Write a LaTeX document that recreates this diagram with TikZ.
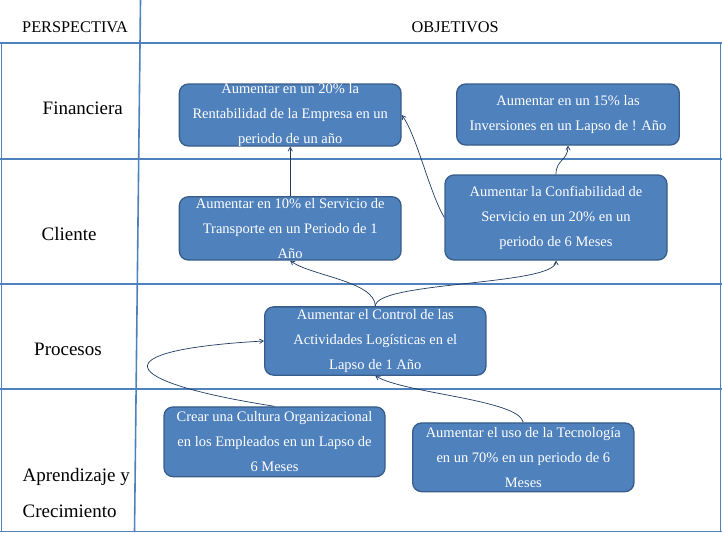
\documentclass[tikz,border=0pt]{standalone}
\usepackage{fontspec}
\setmainfont{Liberation Serif}
\usepackage{tikz}
\usetikzlibrary{shapes.geometric, arrows}
\definecolor{cajaazul}{HTML}{4F81BD}
\definecolor{bordecaja}{HTML}{385D8A}
\definecolor{lineatabla}{HTML}{4F81BD}
\definecolor{flechaazul}{HTML}{1F3A63}

\begin{document}
\begin{tikzpicture}[x=1pt, y=-1pt,
    objetivo/.style={rectangle, rounded corners=9pt, fill=cajaazul, draw=bordecaja, line width=1.3pt},
    texto/.style={align=center, text=white, font=\fontsize{14.5}{25}\selectfont},
    titulo/.style={anchor=base west, inner sep=0pt, font=\fontsize{16.3}{20}\selectfont},
    fila/.style={anchor=base west, inner sep=0pt, font=\fontsize{19}{24}\selectfont},
    tabla/.style={draw=lineatabla, line width=1.6pt},
    flecha/.style={->, >=angle 60, draw=flechaazul, line width=0.7pt}
  ]
    \useasboundingbox (0,0) rectangle (722,533);
    \draw[tabla] (0,43) -- (722,43);
    \draw[tabla] (0,159) -- (722,159);
    \draw[tabla] (0,284) -- (722,284);
    \draw[tabla] (0,389) -- (722,389);
    \draw[tabla] (0,531.5) -- (722,531.5);
    \draw[tabla] (1.5,43) -- (1.5,532);
    \draw[tabla] (720.5,43) -- (720.5,532);
    \draw[tabla] (140.5,0) -- (134.5,532);

    \node[titulo] (persp) at (22,32) {PERSPECTIVA};
    \node[titulo] (objet) at (411.5,32) {OBJETIVOS};
    \node[fila] (financ) at (42.5,114) {Financiera};
    \node[fila] (client) at (41.5,240) {Cliente};
    \node[fila] (proces) at (34,355) {Procesos};
    \node[fila] (aprend) at (22.5,481.5) {Aprendizaje y};
    \node[fila] (crecim) at (22.5,517.5) {Crecimiento};

    \node[objetivo, minimum width=221.7, minimum height=62] (fin1) at (290.2,115) {};
    \node[objetivo, minimum width=222.6, minimum height=61] (fin2) at (568,114.5) {};
    \node[objetivo, minimum width=221.7, minimum height=63.3] (cli1) at (290.2,228.4) {};
    \node[objetivo, minimum width=222, minimum height=85] (cli2) at (556,217.5) {};
    \node[objetivo, minimum width=221.3, minimum height=68.3] (proc) at (375.3,341) {};
    \node[objetivo, minimum width=221, minimum height=69.7] (cult) at (274.5,441.8) {};
    \node[objetivo, minimum width=221.3, minimum height=68.7] (tecn) at (523.3,457.3) {};

    \node[texto] (fin1t) at (fin1) {Aumentar en un 20\% la\\Rentabilidad de la Empresa en un\\periodo de un año};
    \node[texto] (fin2t) at (fin2) {Aumentar en un 15\% las\\Inversiones en un Lapso de ! Año};
    \node[texto] (cli1t) at (cli1) {Aumentar en 10\% el Servicio de\\Transporte en un Periodo de 1\\Año};
    \node[texto] (cli2t) at (cli2) {Aumentar la Confiabilidad de\\Servicio en un 20\% en un\\periodo de 6 Meses};
    \node[texto] (proct) at (proc) {Aumentar el Control de las\\Actividades Logísticas en el\\Lapso de 1 Año};
    \node[texto] (cultt) at (cult) {Crear una Cultura Organizacional\\en los Empleados en un Lapso de\\6 Meses};
    \node[texto] (tecnt) at (tecn) {Aumentar el uso de la Tecnología\\en un 70\% en un periodo de 6\\Meses};

    \draw[flecha] (cli1.north) -- (fin1.south);
    \draw[flecha] (cli2.west) .. controls +(-15,-25) and +(15,20) .. (fin1.east);
    \draw[flecha] (cli2.north) .. controls +(0,-15) and +(0,15) .. (fin2.south);
    \draw[flecha] (proc.north) .. controls +(0,-25) and +(20,15) .. (cli1.south);
    \draw[flecha] (proc.north) .. controls +(0,-25) and +(0,25) .. (cli2.south);
    \draw[flecha] (cult.north) .. controls +(-160,-25) and +(-164,9) .. (proc.west);
    \draw[flecha] (tecn.north) .. controls +(-5,-23) and +(30,18) .. (proc.south);
\end{tikzpicture}
\end{document}
